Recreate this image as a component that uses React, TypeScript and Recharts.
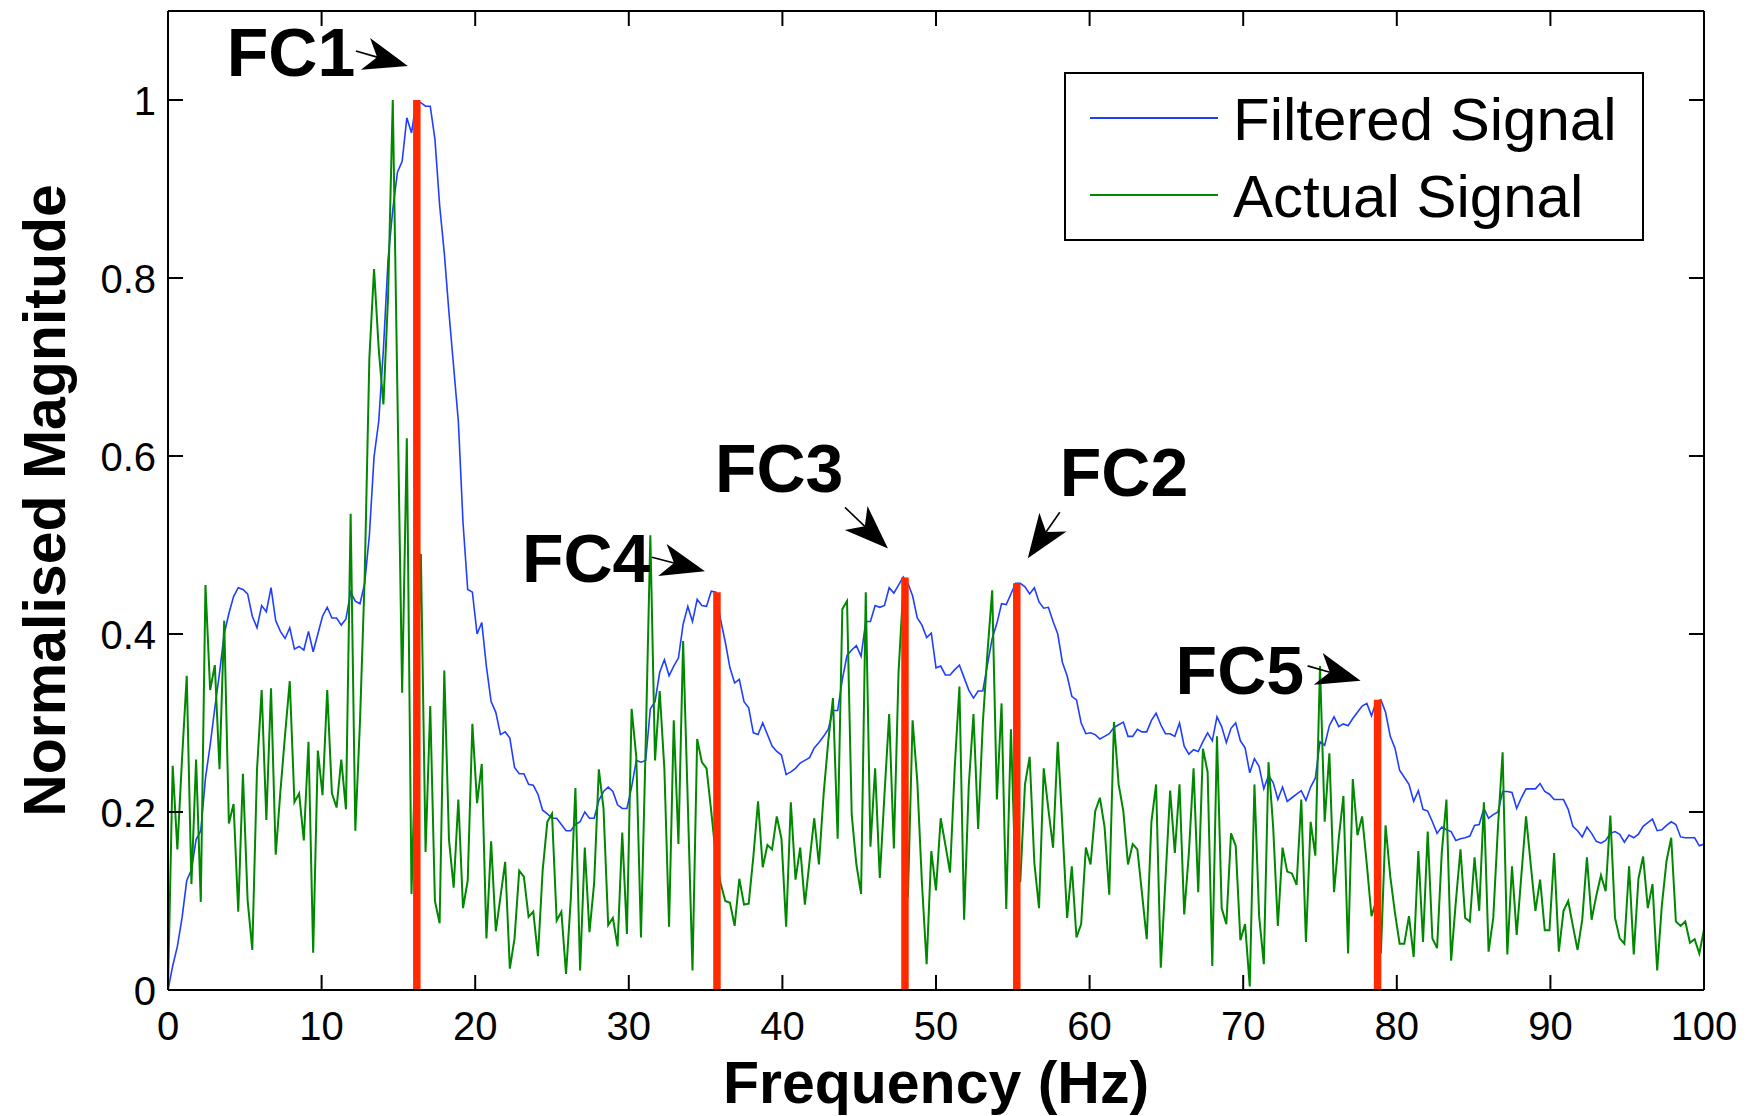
import React from 'react';
import { LineChart, Line, XAxis, YAxis, ReferenceLine, ReferenceDot, Legend } from 'recharts';

// Spectrum sampled on a uniform grid: sample i is at i * FREQ_STEP_HZ (0 .. 100 Hz)
const FREQ_STEP_HZ = 100 / 328;

const FILTERED = [
  0, 0.027, 0.049, 0.081, 0.123, 0.135, 0.169, 0.179, 0.238, 0.275,
  0.317, 0.356, 0.4, 0.423, 0.442, 0.452, 0.45, 0.445, 0.42, 0.407,
  0.432, 0.425, 0.452, 0.415, 0.403, 0.395, 0.407, 0.383, 0.386, 0.382,
  0.403, 0.38, 0.4, 0.42, 0.43, 0.418, 0.418, 0.41, 0.417, 0.447,
  0.437, 0.434, 0.457, 0.511, 0.599, 0.639, 0.72, 0.821, 0.877, 0.919,
  0.931, 0.98, 0.963, 0.998, 0.997, 0.993, 0.993, 0.956, 0.882, 0.828,
  0.761, 0.7, 0.639, 0.525, 0.45, 0.447, 0.4, 0.413, 0.363, 0.324,
  0.312, 0.287, 0.29, 0.283, 0.25, 0.243, 0.243, 0.231, 0.23, 0.22,
  0.202, 0.198, 0.193, 0.193, 0.186, 0.179, 0.179, 0.186, 0.189, 0.2,
  0.193, 0.193, 0.213, 0.223, 0.228, 0.223, 0.208, 0.204, 0.204, 0.228,
  0.258, 0.256, 0.258, 0.316, 0.324, 0.357, 0.371, 0.353, 0.364, 0.373,
  0.411, 0.431, 0.414, 0.439, 0.432, 0.431, 0.448, 0.447, 0.416, 0.391,
  0.362, 0.345, 0.349, 0.324, 0.317, 0.289, 0.287, 0.3, 0.287, 0.274,
  0.268, 0.264, 0.242, 0.245, 0.249, 0.255, 0.258, 0.261, 0.272, 0.278,
  0.285, 0.293, 0.314, 0.314, 0.349, 0.376, 0.382, 0.387, 0.375, 0.414,
  0.414, 0.432, 0.43, 0.432, 0.452, 0.446, 0.455, 0.464, 0.457, 0.443,
  0.418, 0.41, 0.396, 0.401, 0.362, 0.364, 0.354, 0.354, 0.36, 0.365,
  0.351, 0.337, 0.328, 0.336, 0.336, 0.366, 0.395, 0.412, 0.434, 0.433,
  0.445, 0.457, 0.457, 0.453, 0.445, 0.452, 0.436, 0.429, 0.43, 0.414,
  0.4, 0.368, 0.353, 0.33, 0.326, 0.3, 0.288, 0.289, 0.287, 0.282,
  0.285, 0.288, 0.295, 0.298, 0.301, 0.285, 0.285, 0.293, 0.29, 0.29,
  0.303, 0.311, 0.298, 0.288, 0.288, 0.285, 0.3, 0.274, 0.265, 0.27,
  0.268, 0.279, 0.289, 0.28, 0.307, 0.296, 0.278, 0.294, 0.3, 0.28,
  0.272, 0.244, 0.26, 0.251, 0.226, 0.241, 0.233, 0.214, 0.228, 0.212,
  0.216, 0.22, 0.224, 0.213, 0.228, 0.238, 0.279, 0.275, 0.297, 0.307,
  0.296, 0.299, 0.297, 0.305, 0.312, 0.319, 0.322, 0.308, 0.324, 0.326,
  0.312, 0.285, 0.272, 0.247, 0.239, 0.231, 0.212, 0.224, 0.203, 0.201,
  0.189, 0.176, 0.183, 0.18, 0.178, 0.168, 0.17, 0.171, 0.173, 0.185,
  0.186, 0.204, 0.193, 0.197, 0.2, 0.223, 0.223, 0.222, 0.204, 0.216,
  0.226, 0.226, 0.226, 0.232, 0.223, 0.22, 0.214, 0.214, 0.214, 0.203,
  0.184, 0.179, 0.172, 0.183, 0.176, 0.167, 0.165, 0.168, 0.176, 0.178,
  0.175, 0.166, 0.174, 0.171, 0.175, 0.184, 0.188, 0.192, 0.179, 0.18,
  0.185, 0.189, 0.186, 0.172, 0.171, 0.171, 0.171, 0.162, 0.164,
];

const ACTUAL = [
  0, 0.252, 0.158, 0.26, 0.353, 0.119, 0.259, 0.099, 0.455, 0.337,
  0.365, 0.248, 0.415, 0.187, 0.209, 0.088, 0.243, 0.101, 0.045, 0.247,
  0.337, 0.191, 0.339, 0.152, 0.223, 0.287, 0.347, 0.211, 0.221, 0.168,
  0.279, 0.042, 0.269, 0.219, 0.337, 0.221, 0.205, 0.259, 0.203, 0.535,
  0.179, 0.302, 0.464, 0.71, 0.81, 0.72, 0.658, 0.78, 1.0, 0.667,
  0.334, 0.62, 0.108, 0.3, 0.49, 0.155, 0.319, 0.1, 0.075, 0.359,
  0.169, 0.115, 0.214, 0.092, 0.123, 0.299, 0.21, 0.254, 0.058, 0.167,
  0.066, 0.105, 0.144, 0.024, 0.058, 0.134, 0.127, 0.082, 0.088, 0.038,
  0.134, 0.189, 0.198, 0.078, 0.088, 0.018, 0.101, 0.227, 0.022, 0.16,
  0.065, 0.12, 0.248, 0.204, 0.073, 0.081, 0.049, 0.177, 0.063, 0.316,
  0.262, 0.059, 0.275, 0.511, 0.258, 0.336, 0.248, 0.071, 0.303, 0.164,
  0.392, 0.21, 0.022, 0.282, 0.256, 0.249, 0.201, 0.15, 0.12, 0.1,
  0.098, 0.072, 0.125, 0.096, 0.097, 0.15, 0.212, 0.138, 0.163, 0.158,
  0.195, 0.17, 0.071, 0.211, 0.124, 0.16, 0.096, 0.145, 0.193, 0.141,
  0.22, 0.28, 0.328, 0.17, 0.428, 0.437, 0.197, 0.141, 0.108, 0.447,
  0.161, 0.249, 0.126, 0.22, 0.31, 0.159, 0.357, 0.45, 0.104, 0.303,
  0.235, 0.12, 0.029, 0.156, 0.112, 0.193, 0.163, 0.132, 0.25, 0.341,
  0.079, 0.23, 0.31, 0.181, 0.3, 0.38, 0.449, 0.214, 0.322, 0.091,
  0.293, 0.12, 0.122, 0.231, 0.262, 0.143, 0.092, 0.249, 0.203, 0.16,
  0.279, 0.183, 0.081, 0.139, 0.059, 0.074, 0.16, 0.141, 0.201, 0.216,
  0.183, 0.107, 0.301, 0.231, 0.201, 0.141, 0.164, 0.158, 0.108, 0.057,
  0.189, 0.231, 0.025, 0.124, 0.224, 0.154, 0.231, 0.085, 0.154, 0.249,
  0.11, 0.271, 0.245, 0.027, 0.285, 0.092, 0.074, 0.176, 0.162, 0.056,
  0.074, 0.004, 0.231, 0.083, 0.029, 0.256, 0.183, 0.072, 0.16, 0.133,
  0.131, 0.118, 0.214, 0.054, 0.189, 0.151, 0.364, 0.189, 0.266, 0.11,
  0.17, 0.218, 0.041, 0.237, 0.174, 0.195, 0.141, 0.083, 0.1, 0.041,
  0.185, 0.128, 0.087, 0.052, 0.052, 0.083, 0.037, 0.156, 0.054, 0.178,
  0.058, 0.047, 0.154, 0.214, 0.033, 0.099, 0.158, 0.081, 0.077, 0.149,
  0.089, 0.211, 0.043, 0.081, 0.183, 0.267, 0.04, 0.139, 0.062, 0.129,
  0.195, 0.141, 0.089, 0.124, 0.067, 0.067, 0.154, 0.043, 0.089, 0.1,
  0.072, 0.045, 0.079, 0.149, 0.079, 0.106, 0.129, 0.111, 0.196, 0.081,
  0.058, 0.052, 0.139, 0.04, 0.125, 0.15, 0.092, 0.119, 0.022, 0.095,
  0.145, 0.171, 0.077, 0.072, 0.077, 0.053, 0.057, 0.041, 0.068,
];

const SERIES_NAMES = ['Filtered Signal', 'Actual Signal'];
const X_TICKS = [0, 10, 20, 30, 40, 50, 60, 70, 80, 90, 100];
const Y_TICKS = [0, 0.2, 0.4, 0.6, 0.8, 1];

// Fault characteristic frequencies (red markers)
const FC_LABELS = ['FC1', 'FC4', 'FC3', 'FC2', 'FC5'];
const FC_FREQ = [16.2, 35.74, 47.98, 55.26, 78.75];
const FC_MAG = [1.0, 0.447, 0.4636, 0.457, 0.326];

// Pixel offsets of each annotation relative to its marker top (layout only)
const FC_LAYOUT: Record<string, { text: [number, number]; from: [number, number]; to: [number, number] }> = {
  FC1: { text: [-190, -24], from: [-61, -49], to: [-9, -34] },
  FC4: { text: [-195, -10], from: [-65, -35], to: [-12, -21] },
  FC3: { text: [-190, -85], from: [-60, -70], to: [-17, -29] },
  FC2: { text: [43, -87], from: [43, -71], to: [11, -25] },
  FC5: { text: [-202, -6], from: [-70, -34], to: [-17, -19] },
};

const FONT = '"Liberation Sans", Arial, Helvetica, sans-serif';
const BLUE = '#1f3fff';
const GREEN = '#008800';
const RED = '#ff2a00';

const rows = FILTERED.map((v, i) => ({ f: i * FREQ_STEP_HZ, filtered: v, actual: ACTUAL[i] }));

const BottomTick = (props: any) => {
  const { x, y, payload } = props;
  return (
    <g>
      <line x1={x} x2={x} y1={y} y2={y - 15} stroke="#000" strokeWidth={2} />
      <text x={x} y={y + 50} textAnchor="middle" fontSize={40} fontFamily={FONT} fill="#000">
        {payload.value}
      </text>
    </g>
  );
};

const TopTick = (props: any) => {
  const { x, y } = props;
  return <line x1={x} x2={x} y1={y} y2={y + 15} stroke="#000" strokeWidth={2} />;
};

const LeftTick = (props: any) => {
  const { x, y, payload } = props;
  return (
    <g>
      <line x1={x} x2={x + 15} y1={y} y2={y} stroke="#000" strokeWidth={2} />
      <text x={x - 12} y={y + 14.5} textAnchor="end" fontSize={40} fontFamily={FONT} fill="#000">
        {payload.value}
      </text>
    </g>
  );
};

const RightTick = (props: any) => {
  const { x, y } = props;
  return <line x1={x} x2={x - 15} y1={y} y2={y} stroke="#000" strokeWidth={2} />;
};

const XTitle = (props: any) => {
  const vb = props.viewBox || {};
  return (
    <text x={vb.x + vb.width / 2} y={vb.y + 113} textAnchor="middle" fontSize={59} fontWeight="bold" fontFamily={FONT} fill="#000">
      Frequency (Hz)
    </text>
  );
};

const YTitle = (props: any) => {
  const vb = props.viewBox || {};
  const cy = vb.y + vb.height / 2;
  return (
    <text transform={`translate(65, ${cy}) rotate(-90)`} textAnchor="middle" fontSize={59} fontWeight="bold" fontFamily={FONT} fill="#000">
      Normalised Magnitude
    </text>
  );
};

const Arrow = ({ x1, y1, x2, y2 }: { x1: number; y1: number; x2: number; y2: number }) => {
  const dx = x2 - x1;
  const dy = y2 - y1;
  const L = Math.hypot(dx, dy);
  const ux = dx / L;
  const uy = dy / L;
  const nx = -uy;
  const ny = ux;
  const back = 44;
  const half = 16.5;
  const notch = 32;
  const p = (a: number, b: number) => `${x2 + ux * a + nx * b},${y2 + uy * a + ny * b}`;
  const head = [p(0, 0), p(-back, -half), p(-notch, 0), p(-back, half)].join(' ');
  return (
    <g>
      <line x1={x1} y1={y1} x2={x2 - ux * notch} y2={y2 - uy * notch} stroke="#000" strokeWidth={1.6} />
      <polygon points={head} fill="#000" />
    </g>
  );
};

const makeAnnotation = (label: string) => (props: any) => {
  const { cx, cy } = props;
  const lay = FC_LAYOUT[label];
  return (
    <g>
      <text x={cx + lay.text[0]} y={cy + lay.text[1]} fontSize={68} fontWeight="bold" fontFamily={FONT} fill="#000">
        {label}
      </text>
      <Arrow x1={cx + lay.from[0]} y1={cy + lay.from[1]} x2={cx + lay.to[0]} y2={cy + lay.to[1]} />
    </g>
  );
};

const LegendBox = (props: any) => {
  const payload = [...(props.payload || [])].sort(
    (a: any, b: any) => SERIES_NAMES.indexOf(a.value) - SERIES_NAMES.indexOf(b.value)
  );
  return (
    <svg width={580} height={169} style={{ display: 'block' }}>
      <rect x={1} y={1} width={578} height={167} fill="#fff" stroke="#000" strokeWidth={2} />
      {payload.map((e: any, i: number) => (
        <g key={e.value}>
          <line x1={26} x2={154} y1={46 + 77 * i} y2={46 + 77 * i} stroke={e.color} strokeWidth={2} />
          <text x={169} y={68 + 77 * i} fontSize={60} fontFamily={FONT} fill="#000">
            {e.value}
          </text>
        </g>
      ))}
    </svg>
  );
};

export default function App() {
  return (
    <div style={{ position: 'absolute', left: 0, top: 0, width: 1751, height: 1116, background: '#fff' }}>
      <LineChart width={1751} height={1116} data={rows} margin={{ top: 10, right: 46, bottom: 0, left: 0 }}>
        <XAxis
          xAxisId="b"
          dataKey="f"
          type="number"
          domain={[0, 100]}
          ticks={X_TICKS}
          interval={0}
          height={126}
          allowDataOverflow
          axisLine={{ stroke: '#000', strokeWidth: 2 }}
          tickLine={false}
          tickSize={0}
          tickMargin={0}
          tick={<BottomTick />}
          label={<XTitle />}
        />
        <XAxis
          xAxisId="t"
          orientation="top"
          dataKey="f"
          type="number"
          domain={[0, 100]}
          ticks={X_TICKS}
          interval={0}
          height={1}
          allowDataOverflow
          axisLine={{ stroke: '#000', strokeWidth: 2 }}
          tickLine={false}
          tickSize={0}
          tickMargin={0}
          tick={<TopTick />}
        />
        <YAxis
          yAxisId="l"
          type="number"
          domain={[0, 1.1]}
          ticks={Y_TICKS}
          interval={0}
          width={168}
          allowDataOverflow
          axisLine={{ stroke: '#000', strokeWidth: 2 }}
          tickLine={false}
          tickSize={0}
          tickMargin={0}
          tick={<LeftTick />}
          label={<YTitle />}
        />
        <YAxis
          yAxisId="r"
          orientation="right"
          type="number"
          domain={[0, 1.1]}
          ticks={Y_TICKS}
          interval={0}
          width={1}
          allowDataOverflow
          axisLine={{ stroke: '#000', strokeWidth: 2 }}
          tickLine={false}
          tickSize={0}
          tickMargin={0}
          tick={<RightTick />}
        />
        <Legend
          layout="vertical"
          align="center"
          verticalAlign="middle"
          wrapperStyle={{ left: 1064, top: 72, width: 580, height: 169 }}
          content={(p: any) => <LegendBox payload={p.payload} />}
        />
        <Line
          xAxisId="b"
          yAxisId="l"
          type="linear"
          dataKey="filtered"
          name="Filtered Signal"
          stroke={BLUE}
          strokeWidth={1.6}
          dot={false}
          activeDot={false}
          isAnimationActive={false}
        />
        <Line
          xAxisId="b"
          yAxisId="l"
          type="linear"
          dataKey="actual"
          name="Actual Signal"
          stroke={GREEN}
          strokeWidth={2}
          dot={false}
          activeDot={false}
          isAnimationActive={false}
        />
        {FC_FREQ.map((f, i) => (
          <ReferenceLine
            key={`bar-${i}`}
            xAxisId="b"
            yAxisId="l"
            segment={[{ x: f, y: 0 }, { x: f, y: FC_MAG[i] }]}
            stroke={RED}
            strokeWidth={7.5}
            ifOverflow="visible"
          />
        ))}
        {FC_FREQ.map((f, i) => (
          <ReferenceDot
            key={`ann-${i}`}
            xAxisId="b"
            yAxisId="l"
            x={f}
            y={FC_MAG[i]}
            r={0}
            ifOverflow="visible"
            shape={makeAnnotation(FC_LABELS[i])}
          />
        ))}
      </LineChart>
    </div>
  );
}
